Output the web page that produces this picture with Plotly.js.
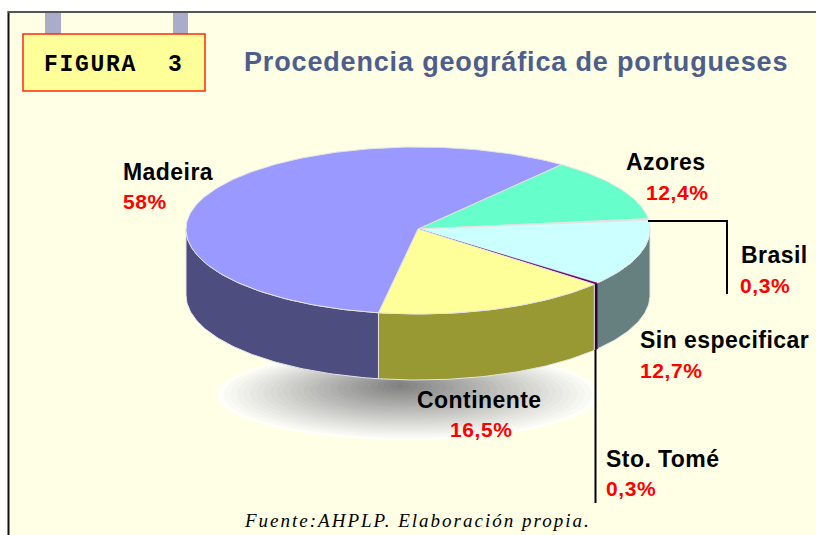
<!DOCTYPE html>
<html><head><meta charset="utf-8">
<script src="https://cdn.plot.ly/plotly-3.0.1.min.js"></script>
<style>html,body{margin:0;padding:0;background:#fff}#chart{width:816px;height:535px}</style>
</head><body><div id="chart"></div>
<script>
// Data, clockwise from the Madeira/Azores boundary
const categories = ['Azores','Brasil','Sin especificar','Sto. Tomé','Continente','Madeira'];
const values = [12.4,0.3,12.7,0.3,16.5,58];
const valueLabels = ['12,4%','0,3%','12,7%','0,3%','16,5%','58%'];
const topColors = ['#66FFCC','#E0E0E0','#CCFFFF','#660066','#FFFF99','#9999FF'];
const sideColors = ['#339980','#8C8C8C','#668080','#330033','#999933','#4D4D80'];
// Pie geometry (pixel-valued axes)
const cx=418, cy=229, rx=232, ryBack=82, ryFront=85, depth=66, startAngle=51.8;
const total = values.reduce((a,b)=>a+b,0);
const rad = d=>d*Math.PI/180;
const px = a=>cx+rx*Math.cos(rad(a));
const py = a=>{const s=Math.sin(rad(a));return cy-(s>0?ryBack:ryFront)*s;};
const traces=[], tops=[];
const edge='#e4e4e4';
let ang=startAngle;
categories.forEach((name,i)=>{
  const sweep=values[i]/total*360, a0=ang, a1=ang-sweep; ang=a1;
  const tx=[cx], ty=[cy];
  for(let k=0;k<=Math.max(2,Math.ceil(sweep));k++){const a=a0-(a0-a1)*k/Math.max(2,Math.ceil(sweep));tx.push(px(a));ty.push(py(a));}
  tx.push(cx);ty.push(cy);
  const thin=(i===1||i===3);
  tops.push({x:tx,y:ty,type:'scatter',mode:'lines',fill:'toself',fillcolor:topColors[i],
    line:{color:thin?topColors[i]:edge,width:thin?0.4:1},hoverinfo:'skip',showlegend:false,name:name});
  const ranges=[];
  for(let shift=-720;shift<=0;shift+=360){
    const lo=Math.max(a1,180+shift), hi=Math.min(a0,360+shift);
    if(hi>lo) ranges.push([hi,lo]);
  }
  ranges.forEach(([hi,lo])=>{
    const sx=[],sy=[],n=Math.max(2,Math.ceil(hi-lo));
    for(let k=0;k<=n;k++){const a=hi-(hi-lo)*k/n;sx.push(px(a));sy.push(py(a));}
    for(let k=n;k>=0;k--){const a=hi-(hi-lo)*k/n;sx.push(px(a));sy.push(py(a)+depth);}
    sx.push(sx[0]);sy.push(sy[0]);
    traces.push({x:sx,y:sy,type:'scatter',mode:'lines',fill:'toself',fillcolor:sideColors[i],
      line:{color:i===3?sideColors[i]:edge,width:1},hoverinfo:'skip',showlegend:false,name:name+' lado'});
  });
});
// Leader lines
const leaderBrasilX=[648,727,727], leaderBrasilY=[221,221,294];
const leaderToméX=[595.5,595.5], leaderToméY=[350,503];
const leaders=[[leaderBrasilX,leaderBrasilY],[leaderToméX,leaderToméY]].map(([x,y])=>(
  {x:x,y:y,type:'scatter',mode:'lines',line:{color:'#000',width:2},hoverinfo:'skip',showlegend:false}));

const shapes=[
 {type:'rect',xref:'x',yref:'y',x0:9,x1:817,y0:12,y1:536,fillcolor:'#FFFFE5',line:{width:0},layer:'below'},
 {type:'line',xref:'x',yref:'y',x0:8.5,x1:8.5,y0:11,y1:535,line:{color:'#111',width:2},layer:'below'},
 {type:'line',xref:'x',yref:'y',x0:8,x1:816,y0:12,y1:12,line:{color:'#555',width:2},layer:'below'},
 {type:'rect',xref:'x',yref:'y',x0:45,x1:61,y0:13,y1:34,fillcolor:'#AAADC9',line:{width:0},layer:'below'},
 {type:'rect',xref:'x',yref:'y',x0:173,x1:188,y0:13,y1:34,fillcolor:'#AAADC9',line:{width:0},layer:'below'},
 {type:'rect',xref:'x',yref:'y',x0:23,x1:205,y0:34,y1:91,fillcolor:'#FFFF99',line:{color:'#FF2A10',width:1.5},layer:'below'}
];
const rings=28;
for(let r=0;r<rings;r++){
  const t=r/(rings-1), g=[255-(255-128)*t,255-(255-128)*t,250-(250-128)*t].map(Math.round);
  const hx=377*(1-t)/2+3, hy=43*(1-t)+2;
  const mx=408-(8)*t, my=395-(10)*t;
  shapes.push({type:'circle',xref:'x',yref:'y',x0:mx-hx,x1:mx+hx,y0:my-hy,y1:my+hy,
    fillcolor:'rgb('+g.join(',')+')',line:{width:0},layer:'below'});
}
const labelPos={
 'Azores':[626,162,646,192],'Brasil':[741,255,740,285],'Sin especificar':[640,340,640,370],
 'Sto. Tomé':[606,459,606,488],'Continente':[417,400,450,429],'Madeira':[123,172,123,201]};
const ann=[];
const lab=(text,x,y,size,color,family,spacing)=>({
  text:'<span style="letter-spacing:'+spacing+'px">'+text+'</span>',x:x,y:y,xref:'x',yref:'y',xanchor:'left',yanchor:'middle',
  showarrow:false,font:{size:size,color:color,family:family},borderpad:0,borderwidth:0});
const sans='"Liberation Sans",Arial,sans-serif';
categories.forEach((c,i)=>{
  const p=labelPos[c];
  ann.push(lab('<b>'+c+'</b>',p[0],p[1],23,'#000',sans,0.45));
  ann.push(lab('<b>'+valueLabels[i]+'</b>',p[2],p[3],21,'#FF0000',sans,0.6));
});
ann.push(lab('<b>FIGURA  3</b>',44,65,23,'#000','"Liberation Mono",monospace',1.7));
ann.push(lab('<b>Procedencia geográfica de portugueses</b>',244,62,27,'#4D5E8D',sans,0.84));
ann.push(lab('<i>Fuente:AHPLP. Elaboración propia.</i>',244,520,19,'#000','"Liberation Serif",serif',2));

const layout={width:816,height:535,margin:{l:0,r:0,t:0,b:0},paper_bgcolor:'#fff',plot_bgcolor:'rgba(0,0,0,0)',
  xaxis:{range:[0,816],visible:false,fixedrange:true},
  yaxis:{range:[535,0],visible:false,fixedrange:true},
  shapes:shapes,annotations:ann,showlegend:false};
Plotly.newPlot('chart',traces.concat(tops,leaders),layout,{displayModeBar:false,staticPlot:true});
</script></body></html>
